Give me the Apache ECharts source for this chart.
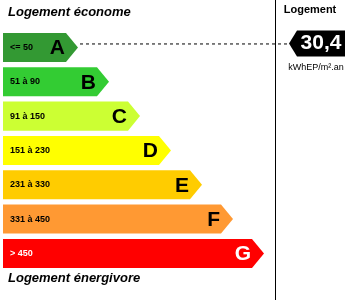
<!DOCTYPE html>
<html><head><meta charset="utf-8">
<script src="https://cdn.jsdelivr.net/npm/echarts@6/dist/echarts.min.js"></script>
<style>html,body{margin:0;padding:0;background:#fff}#c{width:353px;height:300px}</style>
</head><body><div id="c"></div>
<script>
const classes = ['A', 'B', 'C', 'D', 'E', 'F', 'G'];
const ranges = ['<= 50', '51 à 90', '91 à 150', '151 à 230', '231 à 330', '331 à 450', '> 450'];
const barEnds = [66, 97, 128, 159, 190, 221, 252];
const barColors = ['#339933', '#33cc33', '#ccff33', '#ffff00', '#ffcc00', '#ff9933', '#ff0000'];
const textColors = ['#000', '#000', '#000', '#000', '#000', '#000', '#fff'];
const valueText = '30,4';
const valueClassIndex = 0;
const unitText = 'kWhEP/m².an';
const topLabel = 'Logement économe';
const bottomLabel = 'Logement énergivore';
const columnLabel = 'Logement';

const FONT = 'Liberation Sans, Arial, sans-serif';
const chart = echarts.init(document.getElementById('c'), null, {renderer: 'canvas'});
const BAR_START = 3, TIP = 12;

const option = {
  animation: false,
  grid: {left: 0, right: 0, top: 30.3, height: 240.3},
  xAxis: {type: 'value', min: 0, max: 353, show: false},
  yAxis: {type: 'category', data: classes, inverse: true, show: false},
  series: [{
    type: 'custom',
    data: barEnds.map((v, i) => [v, i]),
    renderItem: function (params, api) {
      const i = api.value(1);
      const p0 = api.coord([BAR_START, i]);
      const p1 = api.coord([api.value(0), i]);
      const band = api.size([0, 1])[1];
      const h = band * 0.845;
      const cy = p0[1], top = cy - h / 2, bot = cy + h / 2;
      return {
        type: 'group',
        children: [
          {type: 'polygon', shape: {points: [[p0[0], top], [p1[0], top], [p1[0] + TIP, cy], [p1[0], bot], [p0[0], bot]]},
            style: {fill: barColors[i]}},
          {type: 'text', x: p0[0] + 7, y: cy, style: {text: ranges[i], fill: textColors[i], font: 'bold 9px ' + FONT, verticalAlign: 'middle', align: 'left'}},
          {type: 'text', x: p1[0] - 1, y: cy + 1, style: {text: classes[i], fill: textColors[i], font: 'bold 21px ' + FONT, verticalAlign: 'middle', align: 'right'}}
        ]
      };
    }
  }, {
    type: 'custom',
    data: [[parseFloat(valueText.replace(',', '.')), valueClassIndex]],
    renderItem: function (params, api) {
      const i = api.value(1);
      const tip = api.coord([barEnds[i] + TIP, i]);
      const cy = tip[1] - 4;
      const mx = 289, mb = 297, mr = 345, mh = 26;
      return {
        type: 'group',
        children: [
          {type: 'line', shape: {x1: tip[0] + 2, y1: cy + 0.5, x2: mx, y2: cy + 0.5}, style: {stroke: '#000', lineWidth: 1, lineDash: [3, 3]}},
          {type: 'polygon', shape: {points: [[mx, cy], [mb, cy - mh / 2], [mr, cy - mh / 2], [mr, cy + mh / 2], [mb, cy + mh / 2]]}, style: {fill: '#000'}},
          {type: 'text', x: 321, y: cy, style: {text: valueText, fill: '#fff', font: 'bold 21px ' + FONT, verticalAlign: 'middle', align: 'center'}},
          {type: 'text', x: 316, y: cy + 24, style: {text: unitText, fill: '#000', font: '9px ' + FONT, verticalAlign: 'middle', align: 'center'}}
        ]
      };
    }
  }],
  graphic: [
    {type: 'line', shape: {x1: 275.5, y1: 0, x2: 275.5, y2: 300}, style: {stroke: '#000', lineWidth: 1}},
    {type: 'text', x: 8, y: 12, style: {text: topLabel, fill: '#000', font: 'italic bold 13px ' + FONT, verticalAlign: 'middle'}},
    {type: 'text', x: 8, y: 278, style: {text: bottomLabel, fill: '#000', font: 'italic bold 13px ' + FONT, verticalAlign: 'middle'}},
    {type: 'text', x: 310, y: 10, style: {text: columnLabel, fill: '#000', font: 'bold 11px ' + FONT, verticalAlign: 'middle', align: 'center'}}
  ]
};
chart.setOption(option);
</script></body></html>
